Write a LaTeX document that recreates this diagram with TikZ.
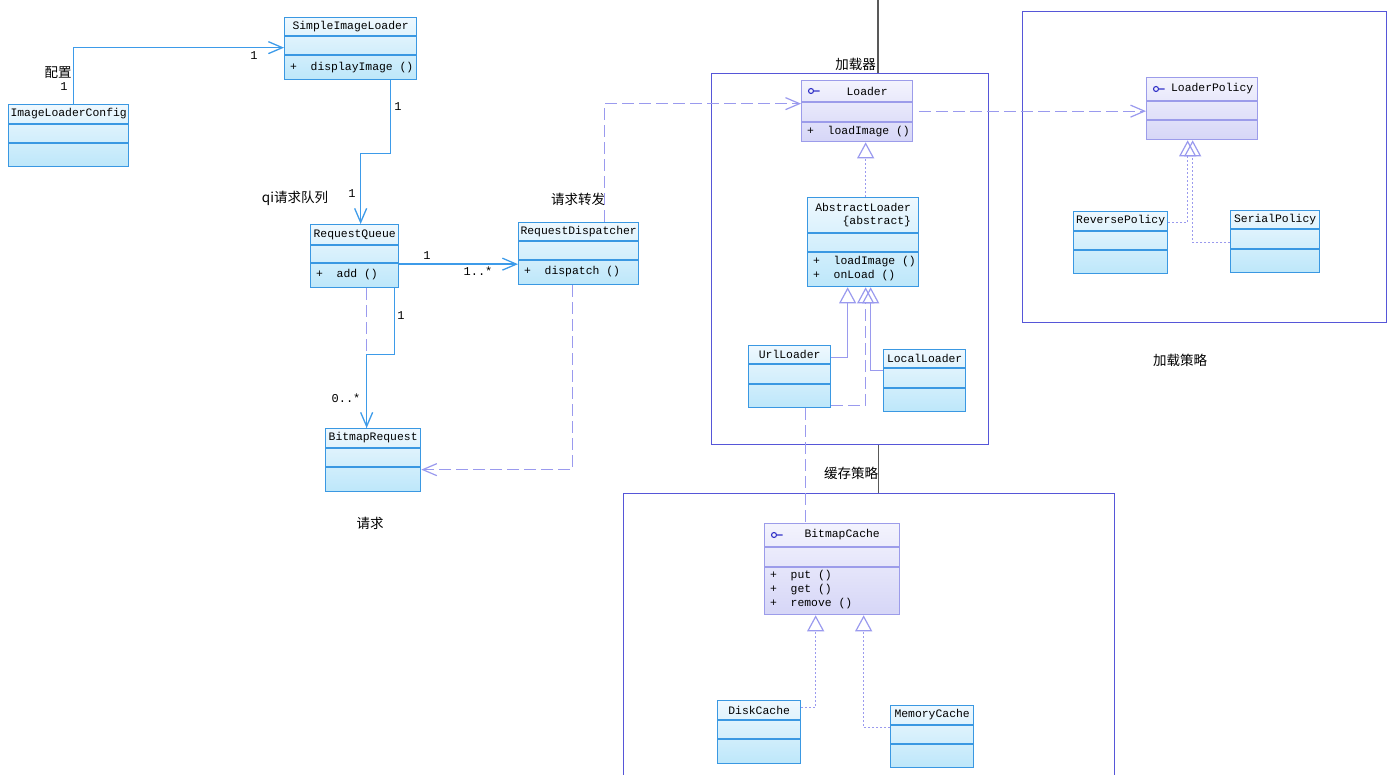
\documentclass[tikz,border=0pt]{standalone}
\usepackage{fontspec}
\setmonofont{Liberation Mono}
\newfontfamily\cjk{Noto Sans CJK SC}
\usepackage{tikz}
\usetikzlibrary{arrows.meta, positioning, calc}
\definecolor{clsborder}{HTML}{3A98E2}
\definecolor{clstop}{HTML}{EEF8FE}
\definecolor{clsbot}{HTML}{BDE7FA}
\definecolor{ifcborder}{HTML}{9C9CEA}
\definecolor{ifctop}{HTML}{F3F3FD}
\definecolor{ifcbot}{HTML}{D6D6F7}
\definecolor{iconcol}{HTML}{3434C8}
\definecolor{pkgcol}{HTML}{5656D8}
\definecolor{assoccol}{HTML}{3D9BE9}
\definecolor{depcol}{HTML}{9A9AEE}
\tikzstyle{classbox} = [rectangle, draw=clsborder, line width=1.3pt, top color=clstop, bottom color=clsbot, inner sep=0pt]
\tikzstyle{classboxline} = [draw=clsborder, line width=1.2pt]
\tikzstyle{classboxtitle} = [font=\ttfamily\fontsize{11.4}{13}\selectfont, inner sep=0pt, align=right]
\tikzstyle{ifacebox} = [rectangle, draw=ifcborder, line width=1.3pt, top color=ifctop, bottom color=ifcbot, inner sep=0pt]
\tikzstyle{ifaceboxline} = [draw=ifcborder, line width=1.2pt]
\tikzstyle{ifaceboxtitle} = [classboxtitle, xshift=10pt]
\tikzstyle{icon} = [draw=iconcol, line width=1.1pt]
\tikzstyle{members} = [font=\ttfamily\fontsize{11.4}{14}\selectfont, inner sep=0pt, anchor=north west, align=left]
\tikzstyle{mult} = [font=\ttfamily\fontsize{12}{13}\selectfont, inner sep=0pt]
\tikzstyle{lbl} = [font=\cjk\fontsize{13.5}{15}\selectfont, inner sep=0pt]
\tikzstyle{pkg} = [rectangle, draw=pkgcol, line width=1.4pt, inner sep=0pt, anchor=north west]
\tikzstyle{pkglink} = [draw=black!65, line width=1.2pt]
\tikzstyle{assoc} = [draw=assoccol, line width=1.3pt, -{Straight Barb[length=14pt, width=12pt]}]
\tikzstyle{depend} = [draw=depcol, line width=1.2pt, dash pattern=on 12pt off 5pt]
\tikzstyle{dependarrow} = [depend, -{Straight Barb[length=14pt, width=12pt]}]
\tikzstyle{realize} = [draw=depcol, line width=1.2pt, dash pattern=on 2pt off 2pt, -{Triangle[open, length=16pt, width=17pt]}]
\tikzstyle{generalize} = [draw=depcol, line width=1.2pt, -{Triangle[open, length=16pt, width=17pt]}]
% estilo, nombre, x, y, ancho, alto, linea 1, linea 2, titulo
\newcommand{\umlclass}[9]{%
  \node (#2) [#1, minimum width=#5pt, minimum height=#6pt, anchor=north west] at (#3,#4) {};
  \draw [#1line] ($(#2.north west)+(0,#7)$) -- ($(#2.north east)+(0,#7)$);
  \draw [#1line] ($(#2.north west)+(0,#8)$) -- ($(#2.north east)+(0,#8)$);
  \node (#2-name) [#1title] at ($(#2.north)+(0,#7/2)$) {#9};
}
\begin{document}
\begin{tikzpicture}[x=1pt, y=-1pt]
    \useasboundingbox (0,0) rectangle (1400,775);

    % Paquetes
    \node (pkgload) [pkg, minimum width=277pt, minimum height=371pt] at (711,73) {};
    \node (pkgpolicy) [pkg, minimum width=364pt, minimum height=311pt] at (1022,11) {};
    \node (pkgcache) [pkg, minimum width=491pt, minimum height=320pt] at (623,493) {};
    \coordinate (topin) at (878,0);
    \draw [pkglink] (topin) -- (topin |- pkgload.north);
    \draw [pkglink] ([xshift=28.5pt]pkgload.south) -- ([xshift=28.5pt]pkgload.south |- pkgcache.north);
    \node (lblload) [lbl, anchor=east] at (876,64) {加载器};
    \node (lblcache) [lbl] at (851,473) {缓存策略};
    \node (lblpolicy) [lbl] at (1180,360) {加载策略};

    % Clases de la peticion
    \umlclass{classbox}{sil}{284}{17}{132}{62}{19}{38}{SimpleImageLoader}
    \node (sil-ops) [members] at ($(sil.north west)+(6,45)$) {+~~displayImage~()};
    \umlclass{classbox}{ilc}{8}{104}{120}{62}{20}{39}{ImageLoaderConfig}
    \umlclass{classbox}{rq}{310}{224}{88}{63}{21}{39}{RequestQueue}
    \node (rq-ops) [members] at ($(rq.north west)+(6,45)$) {+~~add~()};
    \umlclass{classbox}{rd}{518}{222}{120}{62}{19}{38}{RequestDispatcher}
    \node (rd-ops) [members] at ($(rd.north west)+(6,44)$) {+~~dispatch~()};
    \umlclass{classbox}{br}{325}{428}{95}{63}{20}{39}{BitmapRequest}
    \node (lblqueue) [lbl] at (295,198) {qi请求队列};
    \node (lbldisp) [lbl] at (578,199) {请求转发};
    \node (lblreq) [lbl] at (370,523) {请求};

    % Cargadores
    \umlclass{ifacebox}{loader}{801}{80}{111}{61}{22}{42}{Loader}
    \draw [icon] ($(loader.north west)+(10,11)$) circle (2.5pt) ++(2.5,0) -- ++(6,0);
    \node (loader-ops) [members] at ($(loader.north west)+(6,46)$) {+~~loadImage~()};
    \umlclass{classbox}{abs}{807}{197}{111}{89}{36}{55}{AbstractLoader\\\{abstract\}}
    \node (abs-ops) [members] at ($(abs.north west)+(6,59)$) {+~~loadImage~()\\+~~onLoad~()};
    \umlclass{classbox}{url}{748}{345}{82}{62}{19}{39}{UrlLoader}
    \umlclass{classbox}{local}{883}{349}{82}{62}{19}{39}{LocalLoader}

    % Politicas
    \umlclass{ifacebox}{lp}{1146}{77}{111}{62}{24}{43}{LoaderPolicy}
    \draw [icon] ($(lp.north west)+(10,12)$) circle (2.5pt) ++(2.5,0) -- ++(6,0);
    \umlclass{classbox}{rev}{1073}{211}{94}{62}{20}{39}{ReversePolicy}
    \umlclass{classbox}{ser}{1230}{210}{89}{62}{19}{39}{SerialPolicy}

    % Cache
    \umlclass{ifacebox}{bc}{764}{523}{135}{91}{24}{44}{BitmapCache}
    \draw [icon] ($(bc.north west)+(10,12)$) circle (2.5pt) ++(2.5,0) -- ++(6,0);
    \node (bc-ops) [members] at ($(bc.north west)+(6,47)$) {+~~put~()\\+~~get~()\\+~~remove~()};
    \umlclass{classbox}{disk}{717}{700}{83}{63}{20}{39}{DiskCache}
    \umlclass{classbox}{mem}{890}{705}{83}{62}{20}{39}{MemoryCache}

    % Asociaciones
    \draw [assoc] ([xshift=5pt]ilc.north) |- ([yshift=1pt]sil.west);
    \node (m1) [mult] at (64,87) {1};
    \node (lblcfg) [lbl] at (58,73) {配置};
    \node (m2) [mult] at (254,56) {1};
    \draw [assoc] ([xshift=40pt]sil.south) -- ++(0,73) -| ([xshift=6pt]rq.north);
    \node (m3) [mult] at (398,107) {1};
    \node (m4) [mult] at (352,194) {1};
    \draw [assoc] ([yshift=-8pt]rq.east) -- ([yshift=-8pt]rq.east -| rd.west);
    \node (m5) [mult] at (427,256) {1};
    \node (m6) [mult] at (478,271) {1..*};
    \draw [depend] ([xshift=12pt]rq.south) -- ([xshift=-6.5pt]br.north);
    \draw [assoc] ([xshift=40pt]rq.south) -- ++(0,66) -| ([xshift=-6.5pt]br.north);
    \node (m7) [mult] at (401,316) {1};
    \node (m8) [mult] at (346,398) {0..*};

    % Dependencias
    \draw [dependarrow] ([xshift=-6pt]rd.south) |- ([yshift=-9.5pt]br.east);
    \draw [dependarrow] ([xshift=26pt]rd.north) |- ([yshift=7.5pt]loader.west);
    \draw [dependarrow] ([xshift=6pt]loader.east) -- (loader.east -| lp.west);
    \draw [depend] ([xshift=16pt]url.south) -- ([xshift=16pt]url.south |- bc.north);

    % Herencia
    \draw [realize] ([xshift=2.5pt]abs.north) -- ([xshift=2.5pt]abs.north |- loader.south);
    \draw [generalize] ([yshift=19pt]url.east) -| ([xshift=-15.5pt]abs.south);
    \draw [generalize] ([yshift=10pt]local.west) -| ([xshift=7.5pt]abs.south);
    \draw [depend, -{Triangle[open, length=16pt, width=17pt]}] ([yshift=-29pt]url.east) -| ([xshift=2.5pt]abs.south);
    \draw [realize] ([yshift=20pt]rev.east) -| ([xshift=-14.5pt]lp.south);
    \draw [realize] ([yshift=-1pt]ser.west) -| ([xshift=-9.5pt]lp.south);
    \draw [realize] ([yshift=24.5pt]disk.east) -| ([xshift=-16.5pt]bc.south);
    \draw [realize] ([yshift=9pt]mem.west) -| ([xshift=31.5pt]bc.south);
\end{tikzpicture}
\end{document}
